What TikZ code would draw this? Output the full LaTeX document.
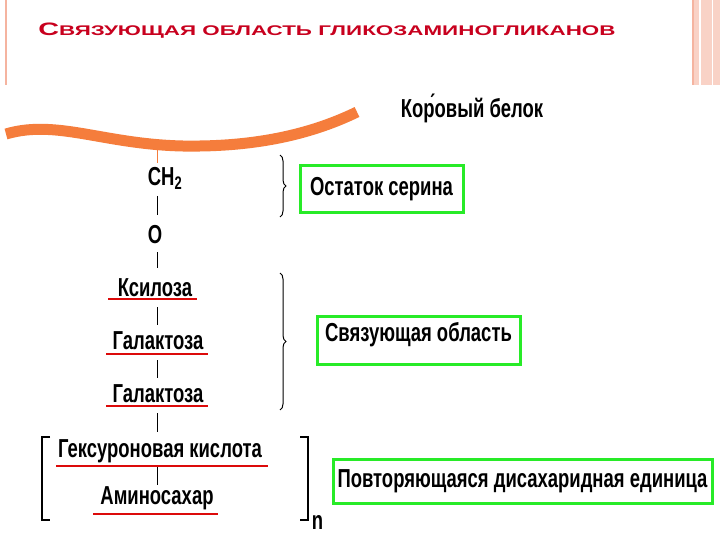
\documentclass[tikz,border=0pt]{standalone}
\usepackage{fontspec}
\setmainfont{Liberation Sans}
\usetikzlibrary{decorations.pathreplacing}
\definecolor{titred}{RGB}{200,0,30}
\definecolor{pinkb}{RGB}{245,180,160}
\definecolor{orng}{RGB}{245,125,60}
\definecolor{grn}{RGB}{40,235,40}
\definecolor{ulred}{RGB}{220,10,10}
\tikzset{
  lbl/.style={font=\bfseries\fontsize{26}{26}\selectfont, xscale=0.71, inner sep=1pt},
  gbox/.style={draw=grn, line width=3pt, inner sep=0pt},
  ul/.style={ulred, line width=2.5pt},
  stem/.style={line width=1pt},
}
\begin{document}
\begin{tikzpicture}[x=1pt,y=-1pt]
\useasboundingbox (0,0) rectangle (720,540);
\fill[white] (0,0) rectangle (720,540);
% borders
\draw[pinkb, line width=1.5pt] (6,0) -- (6,85);
\fill[pinkb!60] (693,0) rectangle (720,85);
\draw[pinkb, line width=1.5pt] (693,0) -- (693,85);
\draw[white, line width=2pt] (700,0) -- (700,85);
\draw[white, line width=1pt] (712,0) -- (712,85);
\node[anchor=west, text=titred, font=\bfseries\fontsize{14}{14}\selectfont, xscale=1.6, inner sep=0] (title) at (38,31)
  {{\fontsize{18}{18}\selectfont С}ВЯЗУЮЩАЯ ОБЛАСТЬ ГЛИКОЗАМИНОГЛИКАНОВ};
% core protein
\draw[orng, line width=11pt] (6,134) .. controls (60,118) and (110,148) .. (200,146) .. controls (270,145) and (320,130) .. (357,112);
\coordinate (wav) at (157,146);
\node[lbl, anchor=west] (core) at (400,108) {Ко\'ровый белок};
% chain
\node[lbl] (ch2) at (165,178) {CH\textsubscript{2}};
\node[lbl] (o) at (155,235) {O};
\node[lbl] (xyl) at (155,288) {Ксилоза};
\node[lbl] (gal1) at (158,341) {Галактоза};
\node[lbl] (gal2) at (158,394) {Галактоза};
\node[lbl] (hex) at (160,451) {Гексуроновая кислота};
\node[lbl] (amino) at (157,498) {Аминосахар};
\draw[orng, line width=0.6pt] (wav) -- (157,163);
\draw[stem] (157,196) -- (157,215);
\draw[stem] (157,252) -- (157,268);
\draw[stem] (157,307) -- (157,325);
\draw[stem] (157,360) -- (157,378);
\draw[stem] (157,413) -- (157,432);
\draw[stem] (157,467) -- (157,485);
% underlines
\draw[ul] (108,299) -- (197,299);
\draw[ul] (106,354) -- (208,354);
\draw[ul] (106,406) -- (208,406);
\draw[ul] (56,466) -- (268,466);
\draw[ul] (93,514) -- (218,514);
% braces
\draw[line width=1pt, decorate, decoration={brace, amplitude=6pt}] (280,155) -- (280,217);
\draw[line width=1pt, decorate, decoration={brace, amplitude=6pt}] (280,273) -- (280,410);
% brackets
\draw[line width=1.5pt] (50,437) -- (42,437) -- (42,520) -- (50,520);
\draw[line width=1.5pt] (300,437) -- (308,437) -- (308,520) -- (300,520);
\node[lbl, anchor=west] (n) at (311,522) {n};
% green boxes
\node[gbox, minimum width=163pt, minimum height=47pt] (ser) at (381.5,189.5) {};
\node[lbl] at (ser) {Остаток серина};
\node[gbox, minimum width=203pt, minimum height=48pt] (link) at (418.5,340) {};
\node[lbl] at (418.5,335) {Связующая область};
\node[gbox, minimum width=379pt, minimum height=44pt] (rep) at (522.5,481) {};
\node[lbl] at (rep) {Повторяющаяся дисахаридная единица};
\end{tikzpicture}
\end{document}
